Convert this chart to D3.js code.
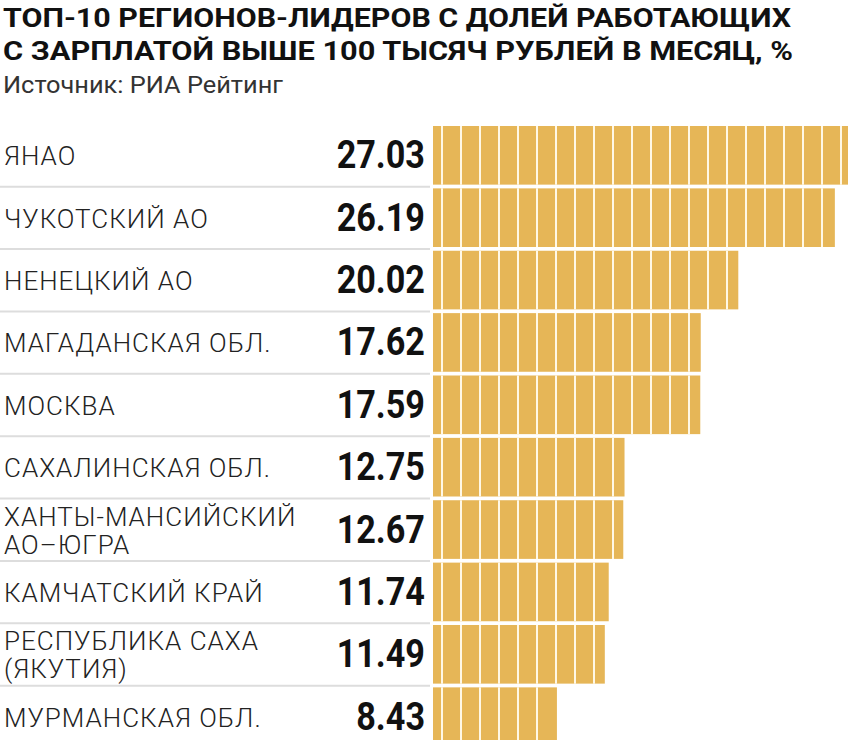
<!DOCTYPE html>
<html><head><meta charset="utf-8">
<script src="https://cdn.jsdelivr.net/npm/d3@7"></script>
<style>body{margin:0;background:#fff}</style>
</head><body><div id="chart"></div>
<script>
// Data
var regions = [["ЯНАО"], ["ЧУКОТСКИЙ АО"], ["НЕНЕЦКИЙ АО"], ["МАГАДАНСКАЯ ОБЛ."], ["МОСКВА"],
	["САХАЛИНСКАЯ ОБЛ."], ["ХАНТЫ-МАНСИЙСКИЙ", "АО–ЮГРА"], ["КАМЧАТСКИЙ КРАЙ"],
	["РЕСПУБЛИКА САХА", "(ЯКУТИЯ)"], ["МУРМАНСКАЯ ОБЛ."]];
var values = [27.03, 26.19, 20.02, 17.62, 17.59, 12.75, 12.67, 11.74, 11.49, 8.43];

var W = 850, H = 740;
var svg = d3.select("#chart").append("svg").attr("width", W).attr("height", H)
	.style("font-family", "Roboto, sans-serif");

svg.append("text").attr("x", 3).attr("y", 27).attr("font-size", 25).attr("font-weight", 700)
	.attr("fill", "#111").attr("textLength", 788).attr("lengthAdjust", "spacingAndGlyphs")
	.text("ТОП-10 РЕГИОНОВ-ЛИДЕРОВ С ДОЛЕЙ РАБОТАЮЩИХ");
svg.append("text").attr("x", 3).attr("y", 60).attr("font-size", 25).attr("font-weight", 700)
	.attr("fill", "#111").attr("textLength", 790).attr("lengthAdjust", "spacingAndGlyphs")
	.text("С ЗАРПЛАТОЙ ВЫШЕ 100 ТЫСЯЧ РУБЛЕЙ В МЕСЯЦ, %");
svg.append("text").attr("x", 3).attr("y", 93).attr("font-size", 23).attr("fill", "#333")
	.attr("textLength", 280).attr("lengthAdjust", "spacingAndGlyphs")
	.text("Источник: РИА Рейтинг");

var y = d3.scaleBand().domain(d3.range(values.length)).range([126, 746]).paddingInner(0.06).paddingOuter(0);
var x = d3.scaleLinear().domain([0, 27.03]).range([425, 848]);
var x0 = 433, step = 19;

var row = svg.selectAll("g.row").data(values).join("g").attr("class", "row")
	.attr("transform", function(d, i) { return "translate(0," + y(i) + ")"; });
var bh = y.bandwidth();

row.append("line").attr("x1", 0).attr("x2", 430).attr("y1", bh + 2).attr("y2", bh + 2)
	.attr("stroke", "#ddd").attr("stroke-width", 2)
	.style("display", function(d, i) { return i == values.length - 1 ? "none" : null; });

row.append("rect").attr("x", x0).attr("y", 0).attr("height", bh)
	.attr("width", function(d) { return x(d) - x0; }).attr("fill", "#e6b657");

row.each(function(d) {
	var g = d3.select(this);
	var seps = d3.range(x0 + 9, x(d) - 2, step);
	g.selectAll("line.sep").data(seps).join("line").attr("class", "sep")
		.attr("x1", function(s) { return s; }).attr("x2", function(s) { return s; })
		.attr("y1", 0).attr("y2", bh).attr("stroke", "#fff8e6").attr("stroke-width", 2);
});

row.append("text").attr("x", 425).attr("y", bh / 2 + 13).attr("text-anchor", "end")
	.attr("font-size", 38).attr("font-weight", 700).attr("fill", "#111")
	.attr("transform", "translate(425,0) scale(0.9,1) translate(-425,0)")
	.text(function(d) { return d.toFixed(2); });

row.each(function(d, i) {
	var lines = regions[i];
	var t = d3.select(this).append("text").attr("font-size", 26).attr("font-weight", 300)
		.attr("fill", "#222").attr("letter-spacing", 1);
	lines.forEach(function(l, k) {
		t.append("tspan").attr("x", 4)
			.attr("y", lines.length == 1 ? bh / 2 + 10 : bh / 2 - 4 + k * 28).text(l);
	});
});
</script></body></html>
